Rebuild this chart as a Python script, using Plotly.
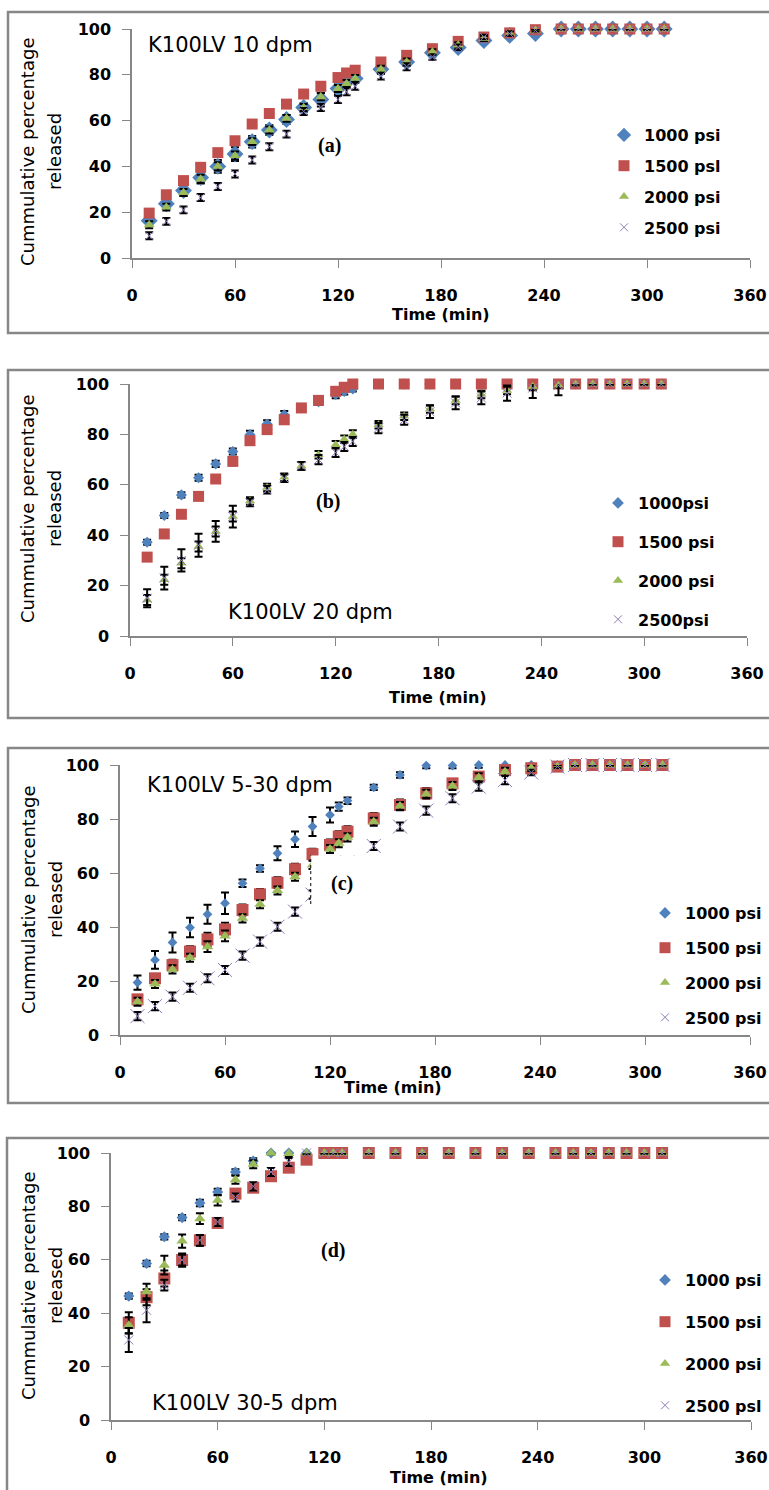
import plotly.graph_objects as go

W, H = 769, 1490

# ---------------- data ----------------
time_min = [10, 20, 30, 40, 50, 60, 70, 80, 90, 100, 110, 120, 125, 130,
            145, 160, 175, 190, 205, 220, 235, 250, 260, 270, 280, 290, 300, 310]

x_ticks = [0, 60, 120, 180, 240, 300, 360]
y_ticks = [0, 20, 40, 60, 80, 100]

# Panel (a): K100LV 10 dpm
a_1000 = [16.3, 23.7, 29.5, 35.1, 40.0, 45.4, 50.8, 55.9, 60.5, 65.7, 69.2, 74.0, 77.0, 78.4,
          82.4, 85.6, 89.6, 91.9, 95.0, 97.2, 98.0, 100, 100, 100, 100, 100, 100, 100]
a_1500 = [19.6, 27.6, 33.8, 39.6, 46.0, 51.2, 58.5, 63.1, 67.2, 71.6, 75.0, 78.8, 80.8, 82.0,
          85.6, 88.5, 91.4, 94.6, 96.5, 98.3, 99.7, 100, 100, 100, 100, 100, 100, 100]
a_2000 = [14.5, 22.2, 28.6, 34.5, 40.0, 44.7, 50.8, 55.9, 61.0, 65.7, 70.4, 74.0, 76.2, 78.4,
          82.4, 85.6, 90.0, 93.0, 95.8, 98.0, 99.4, 100, 100, 100, 100, 100, 100, 100]
a_2500 = [9.7, 16.0, 21.0, 26.4, 31.2, 36.7, 42.8, 48.6, 54.1, 64.0, 65.7, 69.2, 72.6, 75.0,
          79.4, 83.5, 87.8, 92.0, 96.5, 98.0, 99.4, 100, 100, 100, 100, 100, 100, 100]
a_err_1000 = [2.0, 2.2, 2.4, 2.6, 2.8, 3.0, 2.5, 2.2, 2.0, 2.0, 3.0, 2.5, 2.0, 2.0,
              2.0, 1.8, 1.5, 1.5, 1.2, 1.0, 0.8, 0.5, 0.5, 0.5, 0.5, 0.5, 0.5, 0.5]
a_err_1500 = [1.0, 1.2, 1.2, 1.5, 1.5, 1.5, 1.2, 1.2, 1.2, 1.5, 1.5, 1.5, 1.2, 1.2,
              1.2, 1.0, 1.0, 1.0, 1.5, 1.0, 0.5, 0.3, 0.3, 0.3, 0.3, 0.3, 0.3, 0.3]
a_err_2000 = [1.5, 1.5, 1.5, 1.8, 1.8, 1.8, 1.5, 1.5, 1.5, 1.5, 1.5, 1.5, 1.5, 1.5,
              1.5, 1.5, 1.2, 1.2, 1.0, 1.0, 0.5, 0.3, 0.3, 0.3, 0.3, 0.3, 0.3, 0.3]
a_err_2500 = [1.5, 1.5, 1.5, 1.5, 1.5, 1.5, 1.5, 1.5, 1.5, 1.5, 1.5, 1.5, 1.5, 1.5,
              1.5, 1.5, 1.2, 1.2, 1.0, 1.0, 0.5, 0.3, 0.3, 0.3, 0.3, 0.3, 0.3, 0.3]

# Panel (b): K100LV 20 dpm
b_1000 = [37.2, 47.8, 56.0, 62.8, 68.3, 73.2, 79.9, 84.1, 87.8, 90.5, 93.0, 95.8, 97.0, 98.0,
          100, 100, 100, 100, 100, 100, 100, 100, 100, 100, 100, 100, 100, 100]
b_1500 = [31.3, 40.5, 48.3, 55.4, 62.3, 69.3, 77.5, 81.9, 85.8, 90.5, 93.5, 97.1, 98.7, 100,
          100, 100, 100, 100, 100, 100, 100, 100, 100, 100, 100, 100, 100, 100]
b_2000 = [14.3, 22.3, 28.9, 35.5, 41.5, 47.4, 53.6, 58.9, 63.0, 67.5, 71.9, 75.9, 78.1, 80.1,
          83.8, 87.2, 90.1, 93.5, 95.8, 97.4, 99.0, 99.5, 100, 100, 100, 100, 100, 100]
b_2500 = [15.0, 23.0, 30.0, 36.0, 41.5, 47.4, 53.0, 58.0, 62.6, 67.5, 70.0, 72.8, 75.2, 77.2,
          82.5, 85.8, 89.0, 92.5, 94.5, 96.4, 98.4, 99.5, 100, 100, 100, 100, 100, 100]
b_err_1000 = [1.0, 1.0, 1.0, 1.2, 1.2, 1.2, 1.5, 1.5, 1.5, 1.2, 1.2, 1.5, 1.2, 1.0,
              0.3, 0.3, 0.3, 0.3, 0.3, 0.3, 0.3, 0.3, 0.3, 0.3, 0.3, 0.3, 0.3, 0.3]
b_err_1500 = [1.5, 1.0, 1.0, 1.0, 1.0, 1.5, 1.5, 1.5, 1.5, 1.5, 1.5, 1.5, 1.2, 0.5,
              0.3, 0.3, 0.3, 0.3, 0.3, 0.3, 0.3, 0.3, 0.3, 0.3, 0.3, 0.3, 0.3, 0.3]
b_err_2000 = [2.0, 2.0, 2.0, 2.0, 2.0, 2.0, 1.5, 1.5, 1.5, 1.5, 1.5, 1.5, 1.5, 1.5,
              1.5, 1.5, 1.5, 1.5, 1.5, 1.5, 1.5, 1.0, 0.5, 0.3, 0.3, 0.3, 0.3, 0.3]
b_err_2500 = [3.6, 4.5, 4.4, 4.6, 4.1, 4.3, 1.5, 1.5, 1.5, 1.5, 1.8, 1.8, 1.8, 1.8,
              2.0, 2.0, 2.5, 2.5, 2.5, 3.0, 4.0, 4.0, 0.5, 0.3, 0.3, 0.3, 0.3, 0.3]

# Panel (c): K100LV 5-30 dpm
c_1000 = [19.4, 27.8, 34.3, 39.8, 44.7, 48.8, 56.2, 61.7, 67.3, 72.5, 77.2, 81.5, 84.6, 86.8,
          91.7, 96.3, 99.8, 99.8, 100, 100, 100, 100, 100, 100, 100, 100, 100, 100]
c_1500 = [13.2, 21.0, 25.9, 30.9, 35.4, 39.1, 46.3, 52.1, 56.4, 61.4, 67.0, 70.4, 73.5, 75.3,
          80.2, 85.2, 89.5, 93.2, 95.7, 98.1, 98.8, 99.4, 100, 100, 100, 100, 100, 100]
c_2000 = [12.3, 18.9, 24.3, 28.6, 32.7, 36.7, 43.2, 48.4, 53.5, 58.6, 63.0, 68.9, 71.0, 73.2,
          79.0, 84.8, 89.3, 92.2, 95.4, 97.5, 98.8, 99.4, 100, 100, 100, 100, 100, 100]
c_2500 = [7.0, 10.7, 14.2, 17.5, 21.0, 24.1, 29.4, 34.6, 40.1, 45.7, 52.0, 58.0, 61.0, 64.0,
          70.0, 77.2, 83.1, 87.7, 92.0, 94.4, 97.2, 99.4, 100, 100, 100, 100, 100, 100]
c_err_1000 = [2.6, 3.3, 3.7, 3.6, 3.5, 4.0, 1.4, 1.2, 2.6, 2.9, 3.5, 2.8, 1.5, 1.2,
              1.0, 1.0, 1.0, 1.0, 1.0, 1.0, 0.5, 0.3, 0.3, 0.3, 0.3, 0.3, 0.3, 0.3]
c_err_1500 = [1.5, 1.5, 2.0, 2.0, 2.5, 2.5, 2.0, 2.0, 2.0, 2.0, 2.0, 2.0, 2.0, 2.0,
              2.0, 2.0, 2.0, 1.5, 1.5, 1.5, 1.0, 0.5, 0.3, 0.3, 0.3, 0.3, 0.3, 0.3]
c_err_2000 = [1.5, 1.5, 1.5, 1.5, 2.0, 2.0, 1.5, 1.5, 1.5, 1.5, 1.5, 1.5, 1.5, 1.5,
              1.5, 1.5, 1.5, 1.5, 1.5, 1.5, 1.0, 0.5, 0.3, 0.3, 0.3, 0.3, 0.3, 0.3]
c_err_2500 = [1.5, 1.5, 1.5, 1.5, 1.5, 1.5, 1.5, 1.5, 1.5, 1.5, 1.5, 1.5, 1.5, 1.5,
              1.5, 1.5, 1.5, 1.5, 1.5, 1.5, 1.0, 0.5, 0.3, 0.3, 0.3, 0.3, 0.3, 0.3]

# Panel (d): K100LV 30-5 dpm
d_1000 = [46.4, 58.6, 68.6, 75.8, 81.3, 85.4, 92.9, 97.0, 100, 100, 100, 100, 100, 100,
          100, 100, 100, 100, 100, 100, 100, 100, 100, 100, 100, 100, 100, 100]
d_1500 = [36.4, 46.0, 53.0, 59.9, 67.3, 73.8, 84.8, 87.0, 91.3, 94.5, 97.5, 100, 100, 100,
          100, 100, 100, 100, 100, 100, 100, 100, 100, 100, 100, 100, 100, 100]
d_2000 = [35.5, 48.0, 58.0, 67.0, 75.4, 82.3, 90.0, 95.8, 100, 99.8, 100, 100, 100, 100,
          100, 100, 100, 100, 100, 100, 100, 100, 100, 100, 100, 100, 100, 100]
d_2500 = [30.0, 41.1, 50.5, 59.9, 67.3, 74.2, 83.3, 87.5, 92.9, 96.6, 100, 100, 100, 100,
          100, 100, 100, 100, 100, 100, 100, 100, 100, 100, 100, 100, 100, 100]
d_err_1000 = [1.0, 1.0, 1.0, 1.0, 1.2, 1.2, 1.0, 1.0, 0.5, 0.5, 0.3, 0.3, 0.3, 0.3,
              0.3, 0.3, 0.3, 0.3, 0.3, 0.3, 0.3, 0.3, 0.3, 0.3, 0.3, 0.3, 0.3, 0.3]
d_err_1500 = [4.0, 3.0, 3.0, 2.5, 2.0, 1.5, 1.5, 1.5, 1.5, 1.5, 1.0, 0.3, 0.3, 0.3,
              0.3, 0.3, 0.3, 0.3, 0.3, 0.3, 0.3, 0.3, 0.3, 0.3, 0.3, 0.3, 0.3, 0.3]
d_err_2000 = [3.0, 3.0, 3.5, 2.5, 2.0, 2.0, 1.5, 1.5, 0.5, 1.0, 0.3, 0.3, 0.3, 0.3,
              0.3, 0.3, 0.3, 0.3, 0.3, 0.3, 0.3, 0.3, 0.3, 0.3, 0.3, 0.3, 0.3, 0.3]
d_err_2500 = [4.5, 4.5, 2.0, 2.0, 2.0, 1.5, 1.5, 1.5, 1.5, 1.5, 0.5, 0.3, 0.3, 0.3,
              0.3, 0.3, 0.3, 0.3, 0.3, 0.3, 0.3, 0.3, 0.3, 0.3, 0.3, 0.3, 0.3, 0.3]

names_a = ["1000 psi", "1500 psl", "2000 psi", "2500 psi"]
names_b = ["1000psi", "1500 psi", "2000 psi", "2500psi"]
names_c = ["1000 psi", "1500 psi", "2000 psi", "2500 psi"]
names_d = ["1000 psi", "1500 psi", "2000 psi", "2500 psl"]

panel_titles = ["K100LV 10 dpm", "K100LV 20 dpm", "K100LV 5-30 dpm", "K100LV 30-5 dpm"]
panel_tags = ["(a)", "(b)", "(c)", "(d)"]

# ---------------- styling / layout ----------------
GREY = "#878787"
COLORS = ["#4F81BD", "#C0504D", "#9BBB59", "#8E7CB8"]
SYMBOLS = ["diamond", "square", "triangle-up", "x-thin-open"]
SANS = "DejaVu Sans"
LEGEND_SIZES = [9, 11, 9, 8]


def px(x):
    return x / W


def py(y):
    return 1 - y / H


panels = [
    dict(vals=[a_1000, a_1500, a_2000, a_2500], errs=[a_err_1000, a_err_1500, a_err_2000, a_err_2500],
         names=names_a, box=(132, 750, 29, 258), sizes=[13, 11, 9.5, 8],
         leg=(604, 118, 7), title_xy=(230, 45), tag_xy=(329, 145), ytitle_y=152, xtitle_xy=(441, 315),
         border=(8, 12, 333)),
    dict(vals=[b_1000, b_1500, b_2000, b_2500], errs=[b_err_1000, b_err_1500, b_err_2000, b_err_2500],
         names=names_b, box=(130, 747, 384, 636), sizes=[8.5, 11, 9, 9],
         leg=(598, 486, 15), title_xy=(310, 612), tag_xy=(328, 502), ytitle_y=509, xtitle_xy=(438, 697),
         border=(8, 370, 718)),
    dict(vals=[c_1000, c_1500, c_2000, c_2500], errs=[c_err_1000, c_err_1500, c_err_2000, c_err_2500],
         names=names_c, box=(120, 750, 765, 1035), sizes=[7.5, 12, 10, 14],
         leg=(645, 896, 11), title_xy=(240, 785), tag_xy=(342, 883), ytitle_y=900, xtitle_xy=(393, 1087),
         border=(8, 748, 1103)),
    dict(vals=[d_1000, d_1500, d_2000, d_2500], errs=[d_err_1000, d_err_1500, d_err_2000, d_err_2500],
         names=names_d, box=(111, 751, 1153, 1420), sizes=[8.5, 12, 10, 9],
         leg=(645, 1263, 18), title_xy=(245, 1403), tag_xy=(333, 1250), ytitle_y=1286, xtitle_xy=(439, 1477),
         border=(7, 1138, 1500)),
]

fig = go.Figure()
layout = dict(width=W, height=H, autosize=False,
              margin=dict(l=0, r=0, t=0, b=0, pad=0, autoexpand=False),
              paper_bgcolor="white", plot_bgcolor="white", showlegend=True)
annotations = []
shapes = []

tick_font = dict(family=SANS, size=16, color="black", weight="bold")

for i, p in enumerate(panels):
    k = "" if i == 0 else str(i + 1)
    xa, ya = "x" + k, "y" + k
    leg_name = "legend" + k
    x0, x1, yt, yb = p["box"]
    layout["xaxis" + k] = dict(domain=[px(x0), px(x1)], anchor=ya, range=[0, 360], tickvals=x_ticks,
                               ticks="outside", ticklen=8, tickcolor=GREY, showline=True, linecolor=GREY,
                               linewidth=1.5, showgrid=False, zeroline=False, tickfont=tick_font,
                               ticklabelstandoff=14, automargin=False)
    layout["yaxis" + k] = dict(domain=[py(yb), py(yt)], anchor=xa, range=[0, 100], tickvals=y_ticks,
                               ticks="outside", ticklen=8, tickcolor=GREY, showline=True, linecolor=GREY,
                               linewidth=1.5, showgrid=False, zeroline=False, tickfont=tick_font,
                               ticklabelstandoff=8, automargin=False)
    lx, ly, gap = p["leg"]
    layout[leg_name] = dict(x=px(lx), y=py(ly), xanchor="left", yanchor="top", tracegroupgap=gap,
                            bgcolor="rgba(0,0,0,0)", font=dict(family=SANS, size=16, color="black",
                                                                weight="bold"))
    for j in range(4):
        mk = dict(color=COLORS[j], size=p["sizes"][j], symbol=SYMBOLS[j])
        mk["line"] = dict(color=COLORS[j], width=1) if j == 3 else dict(width=0)
        fig.add_trace(go.Scatter(
            x=time_min, y=p["vals"][j], mode="markers", name=p["names"][j],
            xaxis=xa, yaxis=ya, showlegend=False, legendgroup=f"p{i}s{j}",
            marker=mk, cliponaxis=False,
            error_y=dict(type="data", array=p["errs"][j], visible=True, color="black",
                         thickness=2, width=4)))
    # legend entries (symbol keys only, no data drawn)
    for j in range(4):
        lmk = dict(color=COLORS[j], size=LEGEND_SIZES[j] + (2 if (i == 0 and j == 0) else 0),
                   symbol=SYMBOLS[j])
        lmk["line"] = dict(color=COLORS[j], width=1) if j == 3 else dict(width=0)
        fig.add_trace(go.Scatter(
            x=[None], y=[None], mode="markers", name=p["names"][j],
            xaxis=xa, yaxis=ya, legend=leg_name, legendgroup=f"p{i}s{j}", marker=lmk))

    # panel border (chart area)
    bx, btop, bbot = p["border"]
    shapes.append(dict(type="rect", xref="paper", yref="paper", x0=px(bx), x1=1.02,
                       y0=py(bbot), y1=py(btop), line=dict(color=GREY, width=2.5),
                       fillcolor="rgba(0,0,0,0)", layer="below"))
    # annotations
    tx, ty = p["title_xy"]
    annotations.append(dict(xref="paper", yref="paper", x=px(tx), y=py(ty), text=panel_titles[i],
                            showarrow=False, xanchor="center", yanchor="middle",
                            font=dict(family=SANS, size=21, color="black")))
    gx, gy = p["tag_xy"]
    annotations.append(dict(xref="paper", yref="paper", x=px(gx), y=py(gy), text=panel_tags[i],
                            showarrow=False, xanchor="center", yanchor="middle",
                            font=dict(family="Liberation Serif", size=20, color="black", weight="bold")))
    annotations.append(dict(xref="paper", yref="paper", x=px(28), y=py(p["ytitle_y"]),
                            text="Cummulative percentage", textangle=-90, showarrow=False,
                            xanchor="center", yanchor="middle",
                            font=dict(family=SANS, size=18, color="black")))
    annotations.append(dict(xref="paper", yref="paper", x=px(55), y=py(p["ytitle_y"]),
                            text="released", textangle=-90, showarrow=False,
                            xanchor="center", yanchor="middle",
                            font=dict(family=SANS, size=18, color="black")))
    mx, my = p["xtitle_xy"]
    annotations.append(dict(xref="paper", yref="paper", x=px(mx), y=py(my), text="Time (min)",
                            showarrow=False, xanchor="center", yanchor="middle",
                            font=dict(family=SANS, size=16, color="black", weight="bold")))

# white label box in panel (c) that hides some points, with its dashed left edge
shapes.append(dict(type="rect", xref="x3", yref="y3", x0=109, x1=138, y0=48.5, y1=66.5,
                   fillcolor="white", line=dict(width=0), layer="above"))
shapes.append(dict(type="line", xref="x3", yref="y3", x0=109, x1=109, y0=48.5, y1=66.5,
                   line=dict(color="black", width=1, dash="dot"), layer="above"))

layout["annotations"] = annotations
layout["shapes"] = shapes
fig.update_layout(**layout)

fig.write_html("out.html", config={"displayModeBar": False},
               post_script="document.body.style.margin='0';document.body.style.padding='0';"
                           "document.body.style.overflow='hidden';")
